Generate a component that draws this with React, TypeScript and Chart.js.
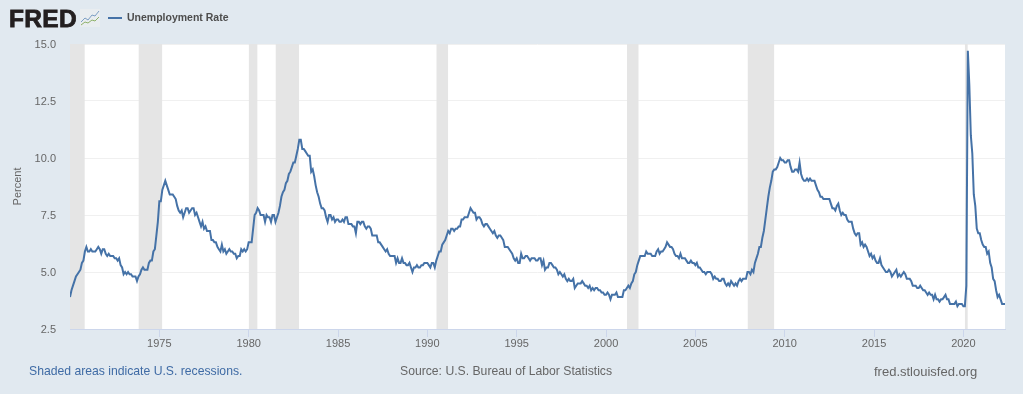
import React, { useEffect, useRef } from "react";
import { Chart, registerables } from "chart.js";

Chart.register(...registerables);

const seriesLabel = "Unemployment Rate";
const startYear = 1970;
const xTickYears = [1975, 1980, 1985, 1990, 1995, 2000, 2005, 2010, 2015, 2020];
const rate1970s = [
  3.9,4.2,4.4,4.6,4.8,4.9,5.0,5.1,5.4,5.5,5.9,6.1,
  5.9,5.9,6.0,5.9,5.9,5.9,6.0,6.1,6.0,5.8,6.0,6.0,
  5.8,5.7,5.8,5.7,5.7,5.7,5.6,5.6,5.5,5.6,5.3,5.2,
  4.9,5.0,4.9,5.0,4.9,4.9,4.8,4.8,4.8,4.6,4.8,4.9,
  5.1,5.2,5.1,5.1,5.1,5.4,5.5,5.5,5.9,6.0,6.6,7.2,
  8.1,8.1,8.6,8.8,9.0,8.8,8.6,8.4,8.4,8.4,8.3,8.2,
  7.9,7.7,7.6,7.7,7.4,7.6,7.8,7.8,7.6,7.7,7.8,7.8,
  7.5,7.6,7.4,7.2,7.0,7.2,6.9,7.0,6.8,6.8,6.8,6.4,
  6.4,6.3,6.3,6.1,6.0,5.9,6.2,5.9,6.0,5.8,5.9,6.0,
  5.9,5.9,5.8,5.8,5.6,5.7,5.7,6.0,5.9,6.0,5.9,6.0,
];
const rate1980s = [
  6.3,6.3,6.3,6.9,7.5,7.6,7.8,7.7,7.5,7.5,7.5,7.2,
  7.5,7.4,7.4,7.2,7.5,7.5,7.2,7.4,7.6,7.9,8.3,8.5,
  8.6,8.9,9.0,9.3,9.4,9.6,9.8,9.8,10.1,10.4,10.8,10.8,
  10.4,10.4,10.3,10.2,10.1,10.1,9.4,9.5,9.2,8.8,8.5,8.3,
  8.0,7.8,7.8,7.7,7.4,7.2,7.5,7.5,7.3,7.4,7.2,7.3,
  7.3,7.2,7.2,7.3,7.2,7.4,7.4,7.1,7.1,7.1,7.0,7.0,
  6.7,7.2,7.2,7.1,7.2,7.2,7.0,6.9,7.0,7.0,6.9,6.6,
  6.6,6.6,6.6,6.3,6.3,6.2,6.1,6.0,5.9,6.0,5.8,5.7,
  5.7,5.7,5.7,5.4,5.6,5.4,5.4,5.6,5.4,5.4,5.3,5.3,
  5.4,5.2,5.0,5.2,5.2,5.3,5.2,5.2,5.3,5.3,5.4,5.4,
];
const rate1990s = [
  5.4,5.3,5.2,5.4,5.4,5.2,5.5,5.7,5.9,5.9,6.2,6.3,
  6.4,6.6,6.8,6.7,6.9,6.9,6.8,6.9,6.9,7.0,7.0,7.3,
  7.3,7.4,7.4,7.4,7.6,7.8,7.7,7.6,7.6,7.3,7.4,7.4,
  7.3,7.1,7.0,7.1,7.1,7.0,6.9,6.8,6.7,6.8,6.6,6.5,
  6.6,6.6,6.5,6.4,6.1,6.1,6.1,6.0,5.9,5.8,5.6,5.5,
  5.6,5.4,5.4,5.8,5.6,5.6,5.7,5.7,5.6,5.5,5.6,5.6,
  5.6,5.5,5.5,5.6,5.6,5.3,5.5,5.1,5.2,5.2,5.4,5.4,
  5.3,5.2,5.2,5.1,4.9,5.0,4.9,4.8,4.9,4.7,4.6,4.7,
  4.6,4.6,4.7,4.3,4.4,4.5,4.5,4.5,4.6,4.5,4.4,4.4,
  4.3,4.4,4.2,4.3,4.2,4.3,4.3,4.2,4.2,4.1,4.1,4.0,
];
const rate2000s = [
  4.0,4.1,4.0,3.8,4.0,4.0,4.0,4.1,3.9,3.9,3.9,3.9,
  4.2,4.2,4.3,4.4,4.3,4.5,4.6,4.9,5.0,5.3,5.5,5.7,
  5.7,5.7,5.7,5.9,5.8,5.8,5.8,5.7,5.7,5.7,5.9,6.0,
  5.8,5.9,5.9,6.0,6.1,6.3,6.2,6.1,6.1,6.0,5.8,5.7,
  5.7,5.6,5.8,5.6,5.6,5.6,5.5,5.4,5.4,5.5,5.4,5.4,
  5.3,5.4,5.2,5.2,5.1,5.0,5.0,4.9,5.0,5.0,5.0,4.9,
  4.7,4.8,4.7,4.7,4.6,4.6,4.7,4.7,4.5,4.4,4.5,4.4,
  4.6,4.5,4.4,4.5,4.4,4.6,4.7,4.6,4.7,4.7,4.7,5.0,
  5.0,4.9,5.1,5.0,5.4,5.6,5.8,6.1,6.1,6.5,6.8,7.3,
  7.8,8.3,8.7,9.0,9.4,9.5,9.5,9.6,9.8,10.0,9.9,9.9,
];
const rate2010s = [
  9.8,9.8,9.9,9.9,9.6,9.4,9.4,9.5,9.5,9.4,9.8,9.3,
  9.1,9.0,9.0,9.1,9.0,9.1,9.0,9.0,9.0,8.8,8.6,8.5,
  8.3,8.3,8.2,8.2,8.2,8.2,8.2,8.0,7.8,7.8,7.7,7.9,
  8.0,7.7,7.5,7.6,7.5,7.5,7.3,7.2,7.2,7.2,6.9,6.7,
  6.6,6.7,6.7,6.2,6.3,6.1,6.2,6.1,5.9,5.7,5.8,5.6,
  5.7,5.5,5.4,5.4,5.6,5.3,5.2,5.1,5.0,5.0,5.1,5.0,
  4.8,4.9,5.0,5.1,4.8,4.9,4.8,4.9,5.0,4.9,4.7,4.7,
  4.7,4.6,4.4,4.4,4.4,4.3,4.3,4.4,4.3,4.2,4.2,4.1,
  4.0,4.1,4.0,4.0,3.8,4.0,3.8,3.8,3.7,3.8,3.8,3.9,
  4.0,3.8,3.8,3.6,3.6,3.6,3.6,3.7,3.5,3.6,3.6,3.6,
];
const rate2020s = [
  3.5,3.5,4.4,14.7,13.2,11.0,10.2,8.4,7.9,6.9,6.7,6.7,
  6.4,6.2,6.1,6.1,5.8,5.9,5.4,5.2,4.7,4.6,4.2,3.9,
  4.0,3.8,3.6,3.6,3.6,
];
const recessionStarts = [1970.0, 1973.83, 1980.0, 1981.5, 1990.5, 2001.17, 2007.92, 2020.08];
const recessionEnds = [1970.83, 1975.17, 1980.5, 1982.83, 1991.17, 2001.83, 2009.42, 2020.25];

const rates = [...rate1970s, ...rate1980s, ...rate1990s, ...rate2000s, ...rate2010s, ...rate2020s];
const FONT = "'Liberation Sans', Arial, sans-serif";

const textStyle = (left: number, top: number, size: number, color: string): React.CSSProperties => ({
  position: "absolute", left, top, fontSize: size, color, fontFamily: FONT, whiteSpace: "nowrap", lineHeight: 1,
});

export default function App() {
  const ref = useRef<HTMLCanvasElement | null>(null);
  useEffect(() => {
    document.body.style.margin = "0";
    const lineData = rates.map((y, i) => ({ x: startYear + i / 12, y }));
    const bandSets = recessionStarts.map((s, i) => ({
      type: "line" as const,
      label: "Recession",
      data: [{ x: s, y: 15 }, { x: recessionEnds[i], y: 15 }],
      borderWidth: 0,
      pointRadius: 0,
      backgroundColor: "#e5e5e5",
      fill: "start",
      order: 2,
    }));
    const chart = new Chart(ref.current!, {
      type: "line",
      data: {
        datasets: [
          {
            label: seriesLabel,
            data: lineData,
            borderColor: "#4572a7",
            borderWidth: 2,
            pointRadius: 0,
            tension: 0,
            fill: false,
            order: 1,
          },
          ...bandSets,
        ],
      },
      options: {
        animation: false,
        responsive: false,
        layout: { padding: { top: 44, right: 18, left: 0, bottom: 0 } },
        plugins: { legend: { display: false }, tooltip: { enabled: false } },
        scales: {
          x: {
            type: "linear",
            min: 1970,
            max: 2022.33,
            afterFit: (s: any) => { s.height = 65; s.paddingRight = 0; s.paddingLeft = 0; },
            afterBuildTicks: (s: any) => { s.ticks = xTickYears.map((value) => ({ value })); },
            ticks: {
              autoSkip: false,
              maxRotation: 0,
              padding: 0,
              color: "#666666",
              font: { family: FONT, size: 11 },
              callback: (v: any) => String(v),
            },
            grid: { drawOnChartArea: false, drawTicks: true, tickLength: 8, tickColor: "#ccd6eb" },
            border: { display: true, color: "#ccd6eb", width: 1 },
          },
          y: {
            min: 2.5,
            max: 15,
            afterFit: (s: any) => { s.width = 70; },
            ticks: {
              stepSize: 2.5,
              padding: 14,
              labelOffset: 1,
              color: "#666666",
              font: { family: FONT, size: 11 },
              callback: (v: any) => Number(v).toFixed(1),
            },
            title: {
              display: true,
              text: "Percent",
              color: "#666666",
              font: { family: FONT, size: 11 },
              padding: { top: 11, bottom: 0 },
            },
            grid: { color: "#f0f0f0", lineWidth: 1, drawTicks: false },
            border: { display: false },
          },
        },
      },
      plugins: [
        {
          id: "plotBackground",
          beforeDraw: (c: any) => {
            const { ctx, chartArea: a } = c;
            ctx.save();
            ctx.fillStyle = "#ffffff";
            ctx.fillRect(a.left, a.top, a.right - a.left, a.bottom - a.top);
            ctx.restore();
          },
        },
      ],
    } as any);
    return () => chart.destroy();
  }, []);

  return (
    <div style={{ position: "relative", width: 1023, height: 394, background: "#e1e9f0", overflow: "hidden" }}>
      <canvas ref={ref} width={1023} height={394} style={{ position: "absolute", left: 0, top: 0, display: "block" }} />
      <div style={{ ...textStyle(9, 7, 24.5, "#231f20"), fontWeight: 700, letterSpacing: 0.3, WebkitTextStroke: "0.8px #231f20" }}>FRED</div>
      <svg width="20" height="18" viewBox="0 0 20 18" style={{ position: "absolute", left: 80, top: 9 }}>
        <rect x="0" y="0" width="20" height="18" fill="#e9edf0" />
        <polyline points="1,13 5,9 8,11 12,6 15,7 19,2" fill="none" stroke="#7d9fc4" strokeWidth="1" />
        <polyline points="1,16 5,13 8,14 12,11 15,12 19,8" fill="none" stroke="#8fb26a" strokeWidth="1" />
      </svg>
      <div style={{ position: "absolute", left: 108, top: 17, width: 14, height: 2, background: "#4572a7" }} />
      <div style={{ ...textStyle(127, 12, 10.5, "#4d4d4d"), fontWeight: 700 }}>{seriesLabel}</div>
      <div style={textStyle(29, 365, 12.2, "#3f6ba5")}>Shaded areas indicate U.S. recessions.</div>
      <div style={textStyle(400, 365, 12.2, "#666666")}>Source: U.S. Bureau of Labor Statistics</div>
      <div style={textStyle(874, 365, 13, "#666666")}>fred.stlouisfed.org</div>
    </div>
  );
}
